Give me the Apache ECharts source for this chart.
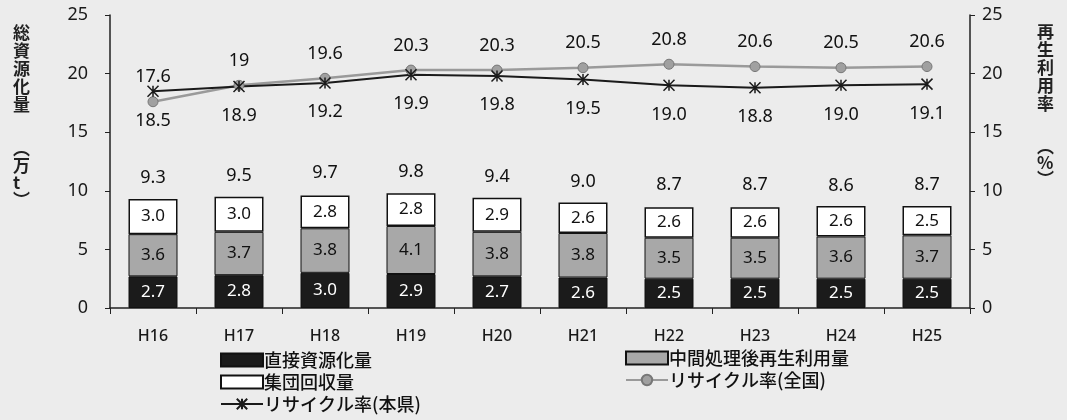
<!DOCTYPE html>
<html>
<head>
<meta charset="utf-8">
<script src="https://cdn.jsdelivr.net/npm/echarts@6/dist/echarts.min.js"></script>
<style>
  html, body { margin: 0; padding: 0; background: #ececec; }
  #chart { width: 1067px; height: 420px; }
</style>
</head>
<body>
<div id="chart"></div>
<script>
// 年度
const years = ['H16', 'H17', 'H18', 'H19', 'H20', 'H21', 'H22', 'H23', 'H24', 'H25'];
// 万t
const direct = [2.7, 2.8, 3.0, 2.9, 2.7, 2.6, 2.5, 2.5, 2.5, 2.5];
const afterTreat = [3.6, 3.7, 3.8, 4.1, 3.8, 3.8, 3.5, 3.5, 3.6, 3.7];
const groupCollect = [3.0, 3.0, 2.8, 2.8, 2.9, 2.6, 2.6, 2.6, 2.6, 2.5];
const totals = [9.3, 9.5, 9.7, 9.8, 9.4, 9.0, 8.7, 8.7, 8.6, 8.7];
// %
const rateNational = [17.6, 19, 19.6, 20.3, 20.3, 20.5, 20.8, 20.6, 20.5, 20.6];
const ratePref = [18.5, 18.9, 19.2, 19.9, 19.8, 19.5, 19.0, 18.8, 19.0, 19.1];
const yTicks = [0, 5, 10, 15, 20, 25];

const numFont = "'Noto Sans', 'Noto Sans CJK JP', sans-serif";
const jpFont = "'Noto Sans CJK JP', sans-serif";
const starPath = 'path://M0,0L10,10M10,0L0,10M5,0L5,10';
const bg = '#ececec';

const chart = echarts.init(document.getElementById('chart'));

const barLabel = (color) => ({
  show: true,
  position: 'inside',
  color: color,
  fontFamily: numFont,
  fontSize: 17,
  formatter: (p) => p.value.toFixed(1),
});

const legendText = { fontFamily: jpFont, fontSize: 18, fontWeight: 500, color: '#111', padding: [0, 0, 0, -4] };

const option = {
  backgroundColor: bg,
  animation: false,
  grid: { left: 110, right: 97, top: 15, bottom: 112 },
  legend: [
    {
      orient: 'vertical',
      left: 215,
      top: 346,
      itemWidth: 42,
      itemHeight: 13,
      itemGap: 4,
      textStyle: legendText,
      data: [
        { name: '直接資源化量', icon: 'rect' },
        { name: '集団回収量', icon: 'rect' },
        'リサイクル率(本県)',
      ],
    },
    {
      orient: 'vertical',
      left: 620,
      top: 344,
      itemWidth: 42,
      itemHeight: 13,
      itemGap: 4,
      textStyle: legendText,
      data: [
        { name: '中間処理後再生利用量', icon: 'rect' },
        'リサイクル率(全国)',
      ],
    },
  ],
  graphic: [
    {
      type: 'text', left: 13, top: 24,
      style: { text: '総\n資\n源\n化\n量', font: 'bold 17px ' + jpFont, lineHeight: 18, fill: '#222' },
    },
    {
      type: 'text', left: 13, top: 140,
      style: { text: '︵\n万\nt\n︶', font: 'bold 17px ' + jpFont, lineHeight: 17, fill: '#222' },
    },
    {
      type: 'text', left: 1037, top: 23,
      style: { text: '再\n生\n利\n用\n率', font: 'bold 17px ' + jpFont, lineHeight: 18, fill: '#222' },
    },
    {
      type: 'text', left: 1037, top: 138,
      style: { text: '︵\n%\n︶', font: 'bold 17px ' + jpFont, lineHeight: 16, fill: '#222' },
    },
  ],
  xAxis: {
    type: 'category',
    data: years,
    axisLine: { lineStyle: { color: '#222', width: 1.5 } },
    axisTick: { show: true, length: 6, lineStyle: { color: '#222' } },
    axisLabel: { fontFamily: numFont, fontSize: 16, fontWeight: 500, color: '#1a1a1a', margin: 20 },
  },
  yAxis: [
    {
      type: 'value', min: yTicks[0], max: yTicks[yTicks.length - 1], interval: 5,
      axisLine: { show: true, lineStyle: { color: '#222', width: 1.5 } },
      axisTick: { show: true, length: 5, lineStyle: { color: '#222' } },
      axisLabel: { fontFamily: numFont, fontSize: 18, color: '#1a1a1a', margin: 22 },
      splitLine: { show: false },
    },
    {
      type: 'value', min: yTicks[0], max: yTicks[yTicks.length - 1], interval: 5,
      axisLine: { show: true, lineStyle: { color: '#222', width: 1.5 } },
      axisTick: { show: true, length: 5, lineStyle: { color: '#222' } },
      axisLabel: { fontFamily: numFont, fontSize: 18, color: '#1a1a1a', margin: 12 },
      splitLine: { show: false },
    },
  ],
  series: [
    {
      name: '直接資源化量', type: 'bar', stack: 'total', barWidth: 49,
      itemStyle: { color: '#1b1b1b', borderColor: '#111', borderWidth: 1 },
      label: barLabel('#fff'),
      data: direct,
    },
    {
      name: '中間処理後再生利用量', type: 'bar', stack: 'total', barWidth: 49,
      itemStyle: { color: '#a8a8a8', borderColor: '#111', borderWidth: 1 },
      label: barLabel('#111'),
      data: afterTreat,
    },
    {
      name: '集団回収量', type: 'bar', stack: 'total', barWidth: 49,
      itemStyle: { color: '#ffffff', borderColor: '#111', borderWidth: 1.5 },
      label: barLabel('#111'),
      data: groupCollect,
    },
    {
      name: '合計', type: 'scatter', symbolSize: 0.1, z: 1,
      itemStyle: { color: '#111', opacity: 1 },
      label: {
        show: true, position: 'top', distance: 12,
        fontFamily: numFont, fontSize: 18, color: '#111',
        formatter: (p) => p.value.toFixed(1),
      },
      data: totals,
    },
    {
      name: 'リサイクル率(全国)', type: 'line', yAxisIndex: 1,
      symbol: 'circle', symbolSize: 10,
      lineStyle: { color: '#9a9a9a', width: 2.5 },
      itemStyle: { color: '#a0a0a0', borderColor: '#777', borderWidth: 1 },
      label: {
        show: true, position: 'top', distance: 10,
        fontFamily: numFont, fontSize: 18, color: '#111',
      },
      data: rateNational,
    },
    {
      name: 'リサイクル率(本県)', type: 'line', yAxisIndex: 1,
      symbol: starPath, symbolSize: 11,
      lineStyle: { color: '#1a1a1a', width: 2 },
      itemStyle: { color: '#1a1a1a', borderColor: '#1a1a1a', borderWidth: 1.5 },
      label: {
        show: true, position: 'bottom', distance: 14,
        fontFamily: numFont, fontSize: 18, color: '#111',
        formatter: (p) => p.value.toFixed(1),
      },
      data: ratePref,
    },
  ],
};

chart.setOption(option);
</script>
</body>
</html>
